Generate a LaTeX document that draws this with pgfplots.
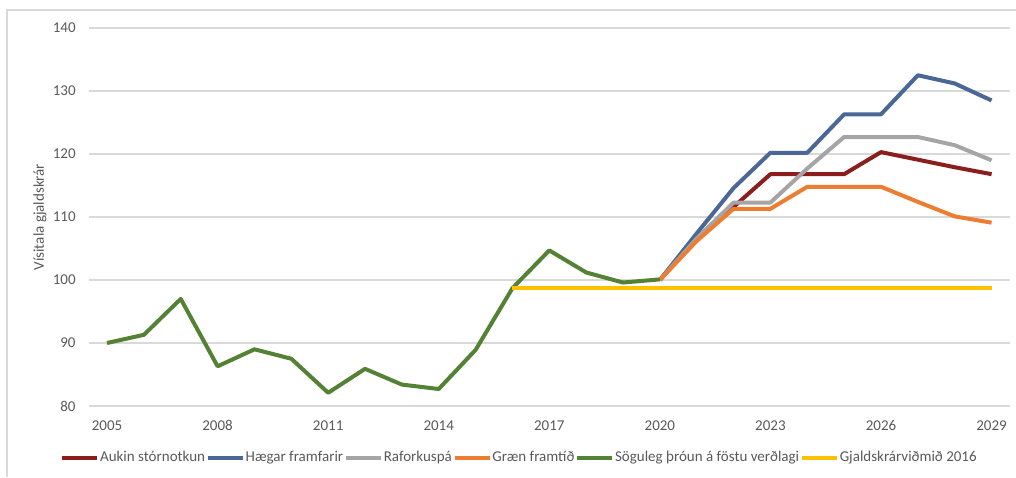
\documentclass[border=0pt]{standalone}
\usepackage{pgfplots}
\pgfplotsset{compat=1.18}
\usepackage{fontspec}
\setmainfont{Carlito}
\definecolor{txt}{HTML}{595959}
\definecolor{gridc}{HTML}{D9D9D9}
\definecolor{cred}{HTML}{8B1D1D}
\definecolor{cblue}{HTML}{4A6796}
\definecolor{cgray}{HTML}{A5A5A5}
\definecolor{corange}{HTML}{ED7D31}
\definecolor{cgreen}{HTML}{548235}
\definecolor{cyellow}{HTML}{FFC000}
\begin{document}
\begin{tikzpicture}
\useasboundingbox (0,0) rectangle (508pt,238.5pt);
\draw[color=gridc, line width=0.6pt] (3.5pt,0pt) -- (3.5pt,233.5pt) -- (508pt,233.5pt);
\begin{axis}[
  at={(44.3pt,35.5pt)}, anchor=south west,
  scale only axis, width=460.7pt, height=189pt,
  xmin=2004.5, xmax=2029.5, ymin=80, ymax=140,
  xtick={2005,2008,2011,2014,2017,2020,2023,2026,2029},
  ytick={80,90,100,110,120,130,140},
  axis line style={draw=none},
  major tick length=0pt,
  ymajorgrids, grid style={color=gridc, line width=0.6pt},
  clip=false,
  /pgf/number format/assume math mode=true,
  /pgf/number format/1000 sep={},
  tick label style={font=\fontsize{7.5}{9}\selectfont, text=txt},
  yticklabel style={anchor=east, inner sep=0pt, xshift=-6.3pt},
  xticklabel style={anchor=north, inner sep=0pt, yshift=-7.1pt},
  ylabel={Vísitala gjaldskrár},
  ylabel style={at={(axis description cs:-0.0527,0.5)}, anchor=center, font=\fontsize{7.5}{9}\selectfont, text=txt},
  legend columns=6,
  legend style={at={(axis description cs:0.467,-0.1376)}, anchor=center, draw=none, fill=none,
    font=\fontsize{7.5}{9}\selectfont, text=txt,
    /tikz/every even column/.append style={column sep=0pt},
    nodes={inner sep=0.4pt}},
  legend image code/.code={\draw[#1, line width=2pt] (0pt,0pt) -- (17.5pt,0pt);},
  every axis plot/.append style={line width=2pt, line join=round, mark=none},
]
\addplot[cred] coordinates {(2020,100) (2021,106.7) (2022,111.6) (2023,116.8) (2024,116.8) (2025,116.8) (2026,120.3) (2027,119.1) (2028,117.9) (2029,116.8)};
\addlegendentry{Aukin stórnotkun}
\addplot[cblue] coordinates {(2020,100) (2021,107.4) (2022,114.6) (2023,120.2) (2024,120.2) (2025,126.3) (2026,126.3) (2027,132.5) (2028,131.2) (2029,128.5)};
\addlegendentry{Hægar framfarir}
\addplot[cgray] coordinates {(2020,100) (2021,106.6) (2022,112.3) (2023,112.3) (2024,117.7) (2025,122.7) (2026,122.7) (2027,122.7) (2028,121.4) (2029,119.0)};
\addlegendentry{Raforkuspá}
\addplot[corange] coordinates {(2020,100) (2021,106.2) (2022,111.3) (2023,111.3) (2024,114.8) (2025,114.8) (2026,114.8) (2027,112.4) (2028,110.1) (2029,109.1)};
\addlegendentry{Græn framtíð}
\addplot[cgreen] coordinates {(2005,90.0) (2006,91.3) (2007,97.0) (2008,86.3) (2009,89.0) (2010,87.5) (2011,82.1) (2012,85.9) (2013,83.4) (2014,82.7) (2015,88.9) (2016,98.7) (2017,104.7) (2018,101.2) (2019,99.6) (2020,100.1)};
\addlegendentry{Söguleg þróun á föstu verðlagi}
\addplot[cyellow] coordinates {(2016,98.7) (2017,98.7) (2018,98.7) (2019,98.7) (2020,98.7) (2021,98.7) (2022,98.7) (2023,98.7) (2024,98.7) (2025,98.7) (2026,98.7) (2027,98.7) (2028,98.7) (2029,98.7)};
\addlegendentry{Gjaldskrárviðmið 2016}
\end{axis}
\end{tikzpicture}
\end{document}
